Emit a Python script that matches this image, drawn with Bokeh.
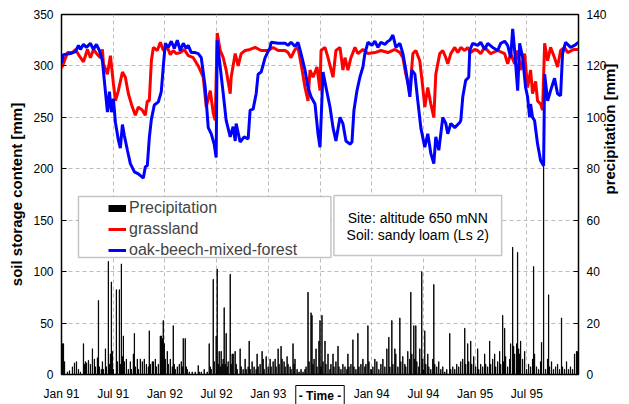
import math
from bokeh.plotting import figure
from bokeh.models import (Range1d, LinearAxis, FixedTicker, Legend, LegendItem,
                          BoxAnnotation, Label, Title)
from bokeh.embed import file_html
from bokeh.resources import INLINE

# ---------------- data (x = months since Jan 1991) ----------------
tick_months = [0, 6, 12, 18, 24, 30, 36, 42, 48, 54]
tick_labels = ["Jan 91", "Jul 91", "Jan 92", "Jul 92", "Jan 93", "",
               "Jan 94", "Jul 94", "Jan 95", "Jul 95"]
soil_ticks = [0, 50, 100, 150, 200, 250, 300, 350]
rain_ticks = [0, 20, 40, 60, 80, 100, 120, 140]

forest_t = [0.00, 0.23, 1.04, 1.62, 1.97, 2.20, 2.55, 2.90, 3.36, 3.71,
            4.05, 4.40, 4.75, 4.98, 5.33, 5.56, 5.79, 6.02, 6.26, 6.60,
            6.83, 7.07, 7.30, 7.65, 7.99, 8.46, 8.92, 9.50, 9.73, 9.96,
            10.19, 10.43, 10.77, 11.24, 11.58, 11.82, 12.05, 12.39, 12.74, 13.09,
            13.44, 13.78, 14.13, 14.48, 14.71, 15.06, 15.52, 15.87, 16.22, 16.68,
            17.03, 17.38, 17.72, 17.95, 18.07, 18.42, 18.77, 19.11, 19.58, 19.92,
            20.16, 20.27, 20.73, 21.20, 21.66, 21.89, 22.24, 22.59, 22.82, 23.17,
            23.63, 24.21, 24.33, 25.14, 25.95, 26.29, 26.64, 27.10, 27.45, 27.80,
            28.26, 28.61, 28.96, 29.42, 29.77, 30.00, 30.35, 30.70, 31.16, 31.51,
            31.85, 32.32, 32.66, 33.01, 33.48, 33.71, 33.94, 34.29, 34.63, 34.98,
            35.21, 35.56, 36.03, 36.37, 36.72, 37.07, 37.53, 37.88, 38.11, 38.46,
            38.81, 39.27, 39.62, 39.96, 40.43, 40.66, 41.01, 41.35, 41.70, 42.16,
            42.51, 42.86, 43.21, 43.44, 43.79, 44.25, 44.60, 44.83, 45.18, 45.64,
            46.22, 46.34, 46.57, 46.91, 47.26, 47.38, 47.72, 48.30, 48.65, 49.11,
            49.46, 50.04, 50.62, 50.97, 51.43, 51.78, 52.13, 52.36, 52.59, 52.94,
            53.17, 53.52, 53.86, 54.09, 54.33, 54.44, 54.67, 54.90, 55.25, 55.60,
            55.95, 56.07, 56.42, 56.76, 57.22, 57.57, 57.92, 58.15, 58.50, 59.08,
            59.55, 60.00]
forest_v = [303, 311, 312, 314, 320, 316, 321, 318, 322, 316,
            321, 315, 305, 285, 255, 275, 255, 268, 245, 228,
            220, 243, 232, 218, 205, 197, 195, 191, 202, 203,
            230, 248, 262, 265, 275, 300, 322, 318, 324, 317,
            325, 315, 322, 317, 320, 313, 313, 312, 308, 279,
            240, 234, 224, 211, 325, 299, 273, 247, 231, 241,
            227, 244, 226, 231, 229, 257, 258, 273, 292, 294,
            308, 318, 323, 322, 322, 320, 323, 319, 323, 312,
            296, 279, 270, 263, 234, 221, 294, 279, 260, 240,
            227, 250, 244, 227, 224, 226, 257, 276, 289, 299,
            312, 323, 320, 324, 318, 323, 321, 324, 325, 330,
            318, 322, 312, 296, 270, 296, 292, 266, 240, 221,
            234, 215, 205, 231, 218, 250, 244, 234, 244, 240,
            245, 247, 270, 286, 289, 315, 322, 320, 323, 316,
            322, 318, 315, 322, 324, 320, 308, 336, 315, 276,
            322, 308, 279, 270, 250, 263, 250, 247, 224, 208,
            203, 292, 266, 276, 288, 273, 271, 312, 323, 318,
            320, 323]

grass_t = [0.00, 0.12, 0.70, 1.27, 1.62, 1.97, 2.55, 3.01, 3.36, 3.71,
           4.17, 4.52, 4.75, 4.87, 5.33, 5.68, 6.02, 6.26, 6.60, 7.07,
           7.41, 7.76, 8.22, 8.57, 8.92, 9.38, 9.73, 9.96, 10.19, 10.43,
           10.66, 11.12, 11.47, 11.82, 12.28, 12.63, 12.97, 13.32, 13.78, 14.25,
           14.71, 15.29, 15.87, 16.45, 16.80, 17.26, 17.61, 17.84, 18.07, 18.42,
           18.77, 19.11, 19.58, 19.69, 20.16, 20.50, 20.85, 21.31, 21.89, 22.47,
           23.17, 23.98, 24.56, 25.14, 25.95, 26.29, 26.64, 27.10, 27.45, 27.80,
           28.26, 28.61, 28.84, 29.19, 29.65, 30.00, 30.12, 30.58, 30.93, 31.51,
           31.85, 32.32, 32.66, 32.90, 33.24, 33.59, 34.06, 34.40, 34.98, 35.56,
           36.37, 37.07, 37.88, 38.69, 39.27, 39.62, 39.96, 40.43, 40.78, 41.12,
           41.58, 41.93, 42.16, 42.51, 42.86, 43.21, 43.44, 43.90, 44.25, 44.60,
           44.83, 45.18, 45.64, 45.99, 46.34, 46.80, 47.14, 47.49, 47.96, 48.30,
           48.65, 49.11, 49.80, 50.62, 51.43, 51.78, 52.13, 52.59, 52.94, 53.29,
           53.75, 54.09, 54.44, 54.67, 55.02, 55.25, 55.60, 55.83, 56.07, 56.42,
           56.76, 57.22, 57.57, 57.92, 58.38, 58.73, 59.43, 60.00]
grass_v = [298, 300, 313, 313, 316, 311, 304, 316, 308, 316,
           311, 308, 316, 302, 292, 310, 283, 266, 276, 294,
           289, 273, 260, 252, 260, 257, 252, 266, 266, 305,
           318, 315, 323, 315, 318, 311, 315, 312, 313, 316,
           310, 308, 300, 289, 260, 276, 254, 247, 332, 315,
           308, 296, 273, 289, 312, 300, 312, 315, 316, 318,
           315, 315, 318, 315, 315, 313, 308, 316, 318, 302,
           279, 266, 296, 289, 299, 276, 315, 318, 308, 289,
           315, 318, 296, 308, 296, 308, 318, 312, 316, 312,
           313, 315, 313, 316, 313, 308, 292, 276, 312, 315,
           305, 279, 260, 279, 263, 250, 292, 312, 315, 308,
           302, 312, 318, 313, 318, 315, 318, 313, 316, 315,
           312, 318, 312, 315, 312, 302, 312, 302, 315, 296,
           312, 279, 296, 273, 285, 266, 263, 257, 322, 305,
           318, 308, 299, 315, 318, 313, 316, 316]

rain_t = [0.12, 0.23, 0.35, 0.69, 0.93, 1.27, 1.51, 1.74, 1.97, 2.20,
          2.55, 2.66, 2.78, 2.90, 3.13, 3.36, 3.59, 3.82, 3.94, 4.17,
          4.29, 4.40, 4.63, 4.75, 4.86, 5.10, 5.21, 5.44, 5.56, 5.68,
          5.79, 5.91, 6.02, 6.37, 6.49, 6.72, 6.83, 6.95, 7.07, 7.18,
          7.30, 7.53, 7.76, 7.99, 8.11, 8.34, 8.46, 8.57, 8.80, 8.92,
          9.15, 9.38, 9.61, 9.85, 10.08, 10.19, 10.31, 10.54, 10.66, 10.89,
          11.00, 11.24, 11.47, 11.58, 11.70, 11.81, 11.93, 12.05, 12.28, 12.39,
          12.63, 12.86, 12.97, 13.09, 13.20, 13.44, 13.67, 13.90, 14.02, 14.13,
          14.36, 14.48, 14.59, 14.83, 15.17, 15.52, 15.87, 15.98, 16.22, 16.56,
          16.91, 17.14, 17.26, 17.37, 17.61, 17.72, 17.95, 18.07, 18.19, 18.30,
          18.42, 18.53, 18.65, 18.76, 18.88, 19.00, 19.11, 19.23, 19.34, 19.58,
          19.69, 19.81, 19.92, 20.15, 20.27, 20.39, 20.73, 20.85, 21.08, 21.31,
          21.43, 21.66, 21.78, 21.89, 22.12, 22.35, 22.59, 22.70, 22.82, 23.05,
          23.28, 23.40, 23.51, 23.75, 23.98, 24.21, 24.32, 24.56, 24.79, 24.90,
          25.14, 25.25, 25.48, 25.60, 25.83, 25.95, 26.18, 26.29, 26.53, 26.64,
          26.87, 26.99, 27.10, 27.34, 27.57, 27.80, 28.03, 28.26, 28.38, 28.61,
          28.73, 28.96, 29.07, 29.19, 29.31, 29.54, 29.65, 29.88, 30.00, 30.12,
          30.23, 30.35, 30.58, 30.69, 30.93, 31.16, 31.27, 31.51, 31.62, 31.85,
          32.09, 32.20, 32.43, 32.66, 32.90, 33.13, 33.24, 33.36, 33.59, 33.82,
          33.94, 34.17, 34.40, 34.52, 34.75, 34.98, 35.21, 35.33, 35.56, 35.68,
          35.91, 36.14, 36.37, 36.60, 36.83, 37.07, 37.30, 37.53, 37.76, 37.99,
          38.11, 38.34, 38.46, 38.69, 38.80, 39.04, 39.27, 39.38, 39.61, 39.85,
          39.96, 40.19, 40.42, 40.54, 40.66, 40.89, 41.00, 41.12, 41.24, 41.47,
          41.58, 41.81, 41.93, 42.16, 42.28, 42.51, 42.63, 42.86, 43.09, 43.21,
          43.32, 43.55, 43.78, 44.02, 44.25, 44.48, 44.71, 45.06, 45.17, 45.41,
          45.64, 45.87, 46.10, 46.33, 46.56, 46.80, 46.91, 47.14, 47.26, 47.49,
          47.61, 47.84, 48.07, 48.30, 48.42, 48.65, 48.88, 49.11, 49.23, 49.46,
          49.69, 49.81, 50.04, 50.27, 50.39, 50.62, 50.85, 50.97, 51.20, 51.31,
          51.43, 51.54, 51.78, 52.01, 52.12, 52.36, 52.47, 52.59, 52.82, 52.93,
          53.05, 53.17, 53.28, 53.51, 53.75, 53.98, 54.21, 54.44, 54.67, 54.79,
          54.90, 55.13, 55.37, 55.60, 55.71, 55.95, 56.18, 56.41, 56.53, 56.64,
          56.87, 57.10, 57.34, 57.57, 57.80, 58.03, 58.15, 58.38, 58.61, 58.84,
          59.07, 59.31, 59.54, 59.77, 59.88]
rain_mm = [12, 12, 5, 1, 1.5, 3, 4.5, 5, 2, 1,
           12, 4, 5, 4.5, 5.5, 4, 10, 6, 3, 6.5,
           28.8, 3, 2, 5, 2, 10, 3, 44, 4, 8,
           36, 9, 2, 33, 5, 33, 4, 43, 7, 15,
           5, 6, 2, 5, 2, 8, 16, 3, 6, 2,
           6, 5, 6, 4, 3, 17, 4, 5, 5, 6,
           3, 4, 15, 15, 14, 21, 12, 6, 9, 4,
           6, 3, 19, 4, 2, 3, 4, 5, 3, 14,
           14, 3, 2, 1, 1, 1, 3.5, 1, 1, 2,
           1, 12, 3, 2, 37, 5, 15, 41, 4, 9,
           3, 9, 4, 6, 26, 4, 16, 3, 5, 39,
           4, 8, 8, 9, 4, 2, 10, 3, 2, 6,
           2, 3, 13, 2, 5, 3, 2, 8, 3, 4,
           9, 6, 2, 7, 3, 6, 3, 5, 6, 3,
           10, 4, 11, 6, 5, 3, 7, 4, 3, 2,
           12, 4, 6, 2, 1, 2, 1, 2, 3, 32,
           5, 24, 23, 4, 6, 10, 3, 13, 21, 3,
           23, 5, 13, 4, 8, 2, 4, 8, 3, 5,
           11, 3, 2, 4, 3, 2, 8, 3, 4, 13.5,
           3, 2, 16, 3, 4, 6, 3, 4, 19, 5,
           2, 3, 6, 5, 2, 4, 6, 3, 10, 14.5,
           3, 21, 4, 10, 8, 3, 22, 5, 7, 4,
           3, 9, 6, 32, 8, 19, 6, 19, 5, 3,
           10, 40, 6, 17, 4, 8, 3, 2, 6, 35,
           4, 3, 5, 2, 3, 1, 2, 16, 2, 3,
           2, 4, 3, 5, 6, 18, 4, 12, 5, 13,
           4, 7, 3, 10, 2, 4, 3, 8, 4, 3,
           13, 4, 6, 8, 3, 5, 9, 4, 23, 5,
           18, 7, 3, 6, 12, 49.5, 11, 8, 12, 47.5,
           10, 8, 13, 6, 9, 2, 4, 3, 6, 42,
           8, 3, 2, 5, 12.5, 81, 2, 6, 31, 3,
           5, 2, 3, 4, 2, 22, 3, 2, 5, 2,
           3, 2, 8, 9, 9]

FONT = "Liberation Sans"

p = figure(width=629, height=404, output_backend="svg", toolbar_location=None,
           x_range=Range1d(0, 60), y_range=Range1d(0, 350),
           min_border_left=61, min_border_right=50, min_border_top=14,
           min_border_bottom=30)
p.extra_y_ranges = {"rain": Range1d(0, 140)}
p.outline_line_color = "black"
p.outline_line_width = 1.5
p.background_fill_color = "white"

# precipitation bars (one day wide)
bars = p.vbar(x=rain_t, top=rain_mm, width=0.033, y_range_name="rain",
              fill_color="black", line_color="black", line_width=0.9)
red = p.line(grass_t, grass_v, line_color="#ff0000", line_width=3)
blue = p.line(forest_t, forest_v, line_color="#0000ff", line_width=3)
# legend key only (draws nothing in the plot)
rain_key = p.line(x=[float("nan")], y=[float("nan")], line_color="black", line_width=7)

# axes
xa = p.xaxis[0]
xa.ticker = FixedTicker(ticks=tick_months)
xa.major_label_overrides = dict(zip(tick_months, tick_labels))
p.yaxis.ticker = FixedTicker(ticks=soil_ticks)
p.yaxis.axis_label = "soil storage content [mm]"

right = LinearAxis(y_range_name="rain", ticker=FixedTicker(ticks=rain_ticks),
                   axis_label="precipitation [mm]")
p.add_layout(right, "right")
right.axis_label_orientation = math.pi / 2

for ax in [xa, p.yaxis[0], right]:
    ax.major_label_text_font = FONT
    ax.major_label_text_font_size = "12px"
    ax.major_label_text_color = "black"
    ax.axis_label_text_font = FONT
    ax.axis_label_text_font_size = "15px"
    ax.axis_label_text_font_style = "bold"
    ax.axis_label_text_color = "black"
    ax.major_tick_in = 5
    ax.major_tick_out = 0
    ax.minor_tick_line_color = None
    ax.major_tick_line_color = "black"
    ax.axis_line_color = "black"
xa.major_label_standoff = 12
p.yaxis.major_label_standoff = 8
p.yaxis.axis_label_standoff = 5
right.major_label_standoff = 8
right.axis_label_standoff = 0

# boxed "- Time -" in the tick-label row at Jul 93 (centre of the frame)
time_title = Title(text="- Time -", align="center", vertical_align="top",
                   text_font=FONT, text_font_size="12px", text_font_style="bold",
                   text_color="black", standoff=-36,
                   border_line_color="black", border_line_width=1,
                   background_fill_color="white")
if "padding" in Title.properties():
    time_title.padding = 3
p.add_layout(time_title, "below")

p.grid.grid_line_color = "#bdbdbd"
p.grid.grid_line_dash = "4 3"
p.grid.grid_line_width = 1

# legend frame and legend
legend_box = BoxAnnotation(left=1.97, right=31.27, bottom=113.7, top=173.1,
                           fill_color="white", fill_alpha=1.0,
                           line_color="#404040", line_width=1.5)
p.add_layout(legend_box)
legend = Legend(items=[LegendItem(label="Precipitation", renderers=[rain_key]),
                       LegendItem(label="grassland", renderers=[red]),
                       LegendItem(label="oak-beech-mixed-forest", renderers=[blue])],
                location=(47, 114), padding=0, margin=0, spacing=1,
                border_line_alpha=0, background_fill_alpha=0,
                label_text_font=FONT, label_text_font_size="16px",
                glyph_width=18, glyph_height=20, label_height=20, label_standoff=3)
p.add_layout(legend)

# site info box
site_box = BoxAnnotation(left=31.62, right=51.08, bottom=115.7, top=174.0,
                         fill_color="white", fill_alpha=1.0,
                         line_color="#404040", line_width=1.5)
p.add_layout(site_box)
for txt, yv in [("Site: altitude 650 mNN", 152.6), ("Soil: sandy loam (Ls 2)", 135.8)]:
    p.add_layout(Label(x=41.35, y=yv, text=txt, text_align="center",
                       text_baseline="middle", text_font=FONT,
                       text_font_size="14px", text_color="black"))

open("out.html", "w").write(file_html(p, INLINE))
